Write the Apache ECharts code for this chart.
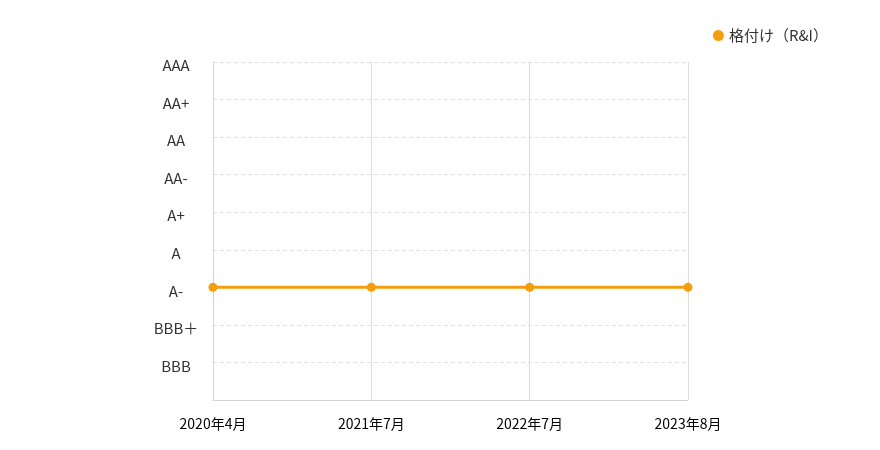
<!DOCTYPE html>
<html>
<head>
<meta charset="utf-8">
<script src="https://cdn.jsdelivr.net/npm/echarts@6/dist/echarts.min.js"></script>
<style>
  html, body { margin: 0; padding: 0; background: #fff; }
  #chart { width: 880px; height: 450px; }
</style>
</head>
<body>
<div id="chart"></div>
<script>
// 格付け推移
const dates = ["2020年4月", "2021年7月", "2022年7月", "2023年8月"];
const ratings = ["", "BBB", "BBB＋", "A-", "A", "A+", "AA-", "AA", "AA+", "AAA"];
const ratingValues = ["A-", "A-", "A-", "A-"];
const seriesName = "格付け（R&I）";

const chart = echarts.init(document.getElementById("chart"));
const font = "'Noto Sans CJK JP', 'Noto Sans', sans-serif";

chart.setOption({
  textStyle: { fontFamily: font },
  legend: {
    data: [seriesName],
    icon: "circle",
    right: 47,
    top: 23,
    itemWidth: 11,
    itemHeight: 11,
    itemGap: 8,
    textStyle: { fontSize: 15, color: "#333", fontFamily: font },
  },
  grid: { left: 213, right: 192, top: 62, bottom: 50 },
  xAxis: {
    type: "category",
    data: dates,
    boundaryGap: false,
    axisLine: { lineStyle: { color: "#d4d4d4" } },
    axisTick: { show: false },
    axisLabel: { color: "#000", fontSize: 14, margin: 17 },
    splitLine: { show: true, lineStyle: { color: "#dcdcdc", type: "solid" } },
  },
  yAxis: {
    type: "category",
    data: ratings,
    boundaryGap: false,
    axisLine: { show: true, lineStyle: { color: "#d4d4d4" } },
    axisTick: { show: false },
    axisLabel: {
      align: "center",
      margin: 37,
      formatter: (v) => (v ? "{r|" + v + "}" : ""),
      rich: {
        r: { color: "#333", fontSize: 15, fontFamily: font, padding: [7, 0, 0, 0] },
      },
    },
    splitLine: { show: true, lineStyle: { color: "#e0e0e0", type: [4, 3] } },
  },
  series: [
    {
      name: seriesName,
      type: "line",
      data: ratingValues,
      symbol: "circle",
      symbolSize: 9,
      itemStyle: { color: "#f59e0b" },
      lineStyle: { width: 3, color: "#f59e0b" },
    },
  ],
});
</script>
</body>
</html>
